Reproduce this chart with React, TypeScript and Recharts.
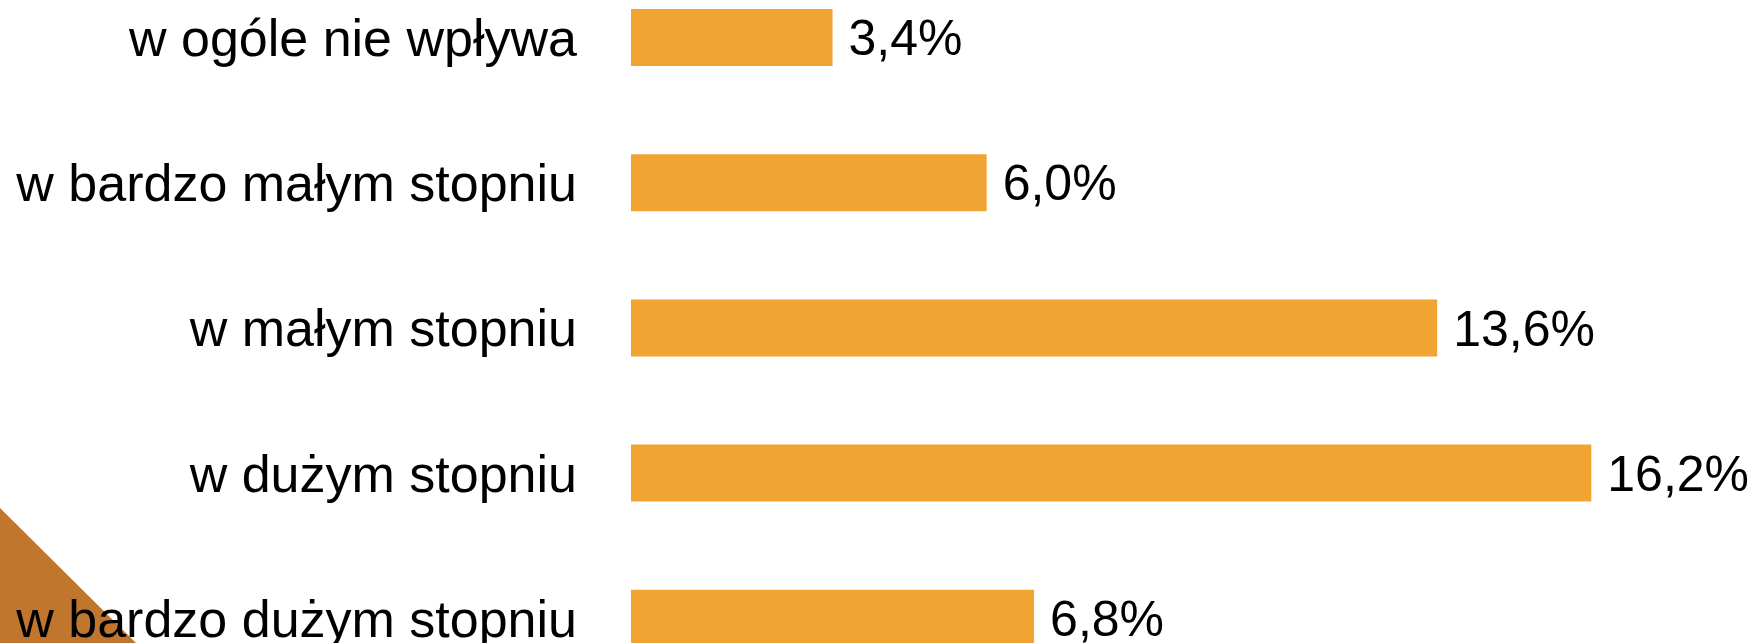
import { BarChart, Bar, XAxis, YAxis, LabelList } from 'recharts'

const categories = [
  'w ogóle nie wpływa',
  'w bardzo małym stopniu',
  'w małym stopniu',
  'w dużym stopniu',
  'w bardzo dużym stopniu',
]
const values = [3.4, 6.0, 13.6, 16.2, 6.8]

const data = categories.map((name, i) => ({ name, value: values[i] }))

const FONT = '"Liberation Sans", Arial, sans-serif'

const fmt = (v: any) => `${Number(v).toFixed(1).replace('.', ',')}%`

export default function App() {
  return (
    <div style={{ position: 'fixed', left: 0, top: 0, width: 1751, height: 643, overflow: 'hidden', background: '#fff' }}>
      <svg width={1751} height={643} style={{ position: 'absolute', left: 0, top: 0 }}>
        <polygon points="0,508 136,643 0,643" fill="#C0762C" />
      </svg>
      <div style={{ position: 'absolute', left: 0, top: -35 }}>
        <BarChart
          width={1751}
          height={726}
          data={data}
          layout="vertical"
          margin={{ top: 0, right: 53, bottom: 0, left: 0 }}
        >
          <XAxis type="number" domain={[0, 18]} hide />
          <YAxis
            type="category"
            dataKey="name"
            width={631}
            axisLine={false}
            tickLine={false}
            tickSize={0}
            tickMargin={54}
            tick={{ fontSize: 52, fill: '#000', fontFamily: FONT }}
          />
          <Bar dataKey="value" fill="#F0A431" barSize={57} isAnimationActive={false}>
            <LabelList
              dataKey="value"
              position="right"
              offset={16}
              formatter={fmt}
              style={{ fontSize: 50, fill: '#000', fontFamily: FONT }}
            />
          </Bar>
        </BarChart>
      </div>
    </div>
  )
}
